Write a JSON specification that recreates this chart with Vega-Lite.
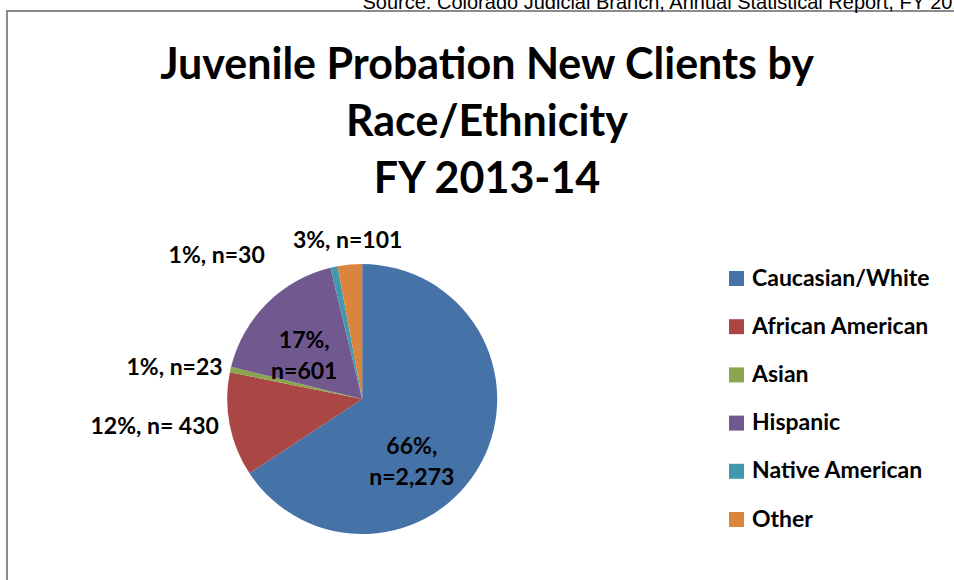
{
  "$schema": "https://vega.github.io/schema/vega-lite/v6.json",
  "width": 960,
  "height": 600,
  "autosize": {"type": "none"},
  "padding": {"left": 7, "top": 11, "right": 0, "bottom": 0},
  "background": "white",
  "config": {
    "view": {"stroke": "#8c8c8c", "strokeWidth": 2},
    "font": "Lato"
  },
  "title": {
    "text": ["Juvenile Probation New Clients by", "Race/Ethnicity", "FY 2013-14"],
    "frame": "group",
    "anchor": "middle",
    "font": "Lato",
    "fontSize": 43,
    "fontWeight": "bold",
    "lineHeight": 57,
    "color": "black",
    "offset": -210
  },
  "data": {
    "values": [
      {"cat": "Caucasian/White", "n": 2273, "label": "66%,\nn=2,273"},
      {"cat": "African American", "n": 430, "label": "12%, n= 430"},
      {"cat": "Asian", "n": 23, "label": "1%, n=23"},
      {"cat": "Hispanic", "n": 601, "label": "17%,\nn=601"},
      {"cat": "Native American", "n": 30, "label": "1%, n=30"},
      {"cat": "Other", "n": 101, "label": "3%, n=101"}
    ]
  },
  "transform": [{"window": [{"op": "row_number", "as": "idx"}]}],
  "encoding": {
    "theta": {"field": "n", "type": "quantitative", "stack": true},
    "order": {"field": "idx", "type": "quantitative"},
    "x": {
      "datum": 0.37,
      "type": "quantitative",
      "scale": {"domain": [0, 1]},
      "axis": {
        "orient": "top",
        "domain": false,
        "ticks": false,
        "labels": false,
        "grid": false,
        "title": "Source: Colorado Judicial Branch, Annual Statistical Report, FY 2013-14",
        "titleFont": "Liberation Sans",
        "titleFontSize": 20,
        "titleFontWeight": "normal",
        "titleColor": "black",
        "titleAnchor": "start",
        "titleAlign": "left",
        "titleBaseline": "alphabetic",
        "titleX": 355,
        "titleY": -3
      }
    },
    "y": {
      "datum": 0.6467,
      "type": "quantitative",
      "scale": {"domain": [0, 1], "reverse": true},
      "axis": null
    }
  },
  "layer": [
    {
      "mark": {"type": "arc", "outerRadius": 135, "stroke": null},
      "encoding": {
        "color": {
          "field": "cat",
          "type": "nominal",
          "scale": {
            "domain": ["Caucasian/White", "African American", "Asian", "Hispanic", "Native American", "Other"],
            "range": ["#4572A7", "#AA4643", "#89A54E", "#71588F", "#4198AF", "#DB843D"]
          },
          "legend": {
            "orient": "none",
            "legendX": 718,
            "legendY": 256,
            "title": null,
            "symbolType": "square",
            "symbolSize": 225,
            "symbolStrokeWidth": 0,
            "symbolOpacity": 1,
            "labelFont": "Lato",
            "labelFontSize": 23,
            "labelFontWeight": "bold",
            "labelColor": "black",
            "labelOffset": 4,
            "rowPadding": 24.2,
            "labelLimit": 300
          }
        }
      }
    },
    {
      "mark": {
        "type": "text",
        "font": "Lato",
        "fontSize": 23,
        "fontWeight": "bold",
        "color": "black",
        "lineBreak": "\n",
        "lineHeight": 31,
        "baseline": "middle",
        "radius": {"expr": "datum.cat == 'Caucasian/White' ? 70 : datum.cat == 'Hispanic' ? 82 : datum.cat == 'Asian' ? 143 : datum.cat == 'African American' ? 146 : datum.cat == 'Other' ? 159 : 160"},
        "align": {"expr": "(datum.cat == 'Caucasian/White' || datum.cat == 'Hispanic' || datum.cat == 'Other') ? 'center' : 'right'"},
        "dx": {"expr": "datum.cat == 'Caucasian/White' ? -12 : datum.cat == 'Native American' ? -64 : 0"},
        "dy": {"expr": "datum.cat == 'Caucasian/White' ? 15 : datum.cat == 'Native American' ? 13 : 0"}
      },
      "encoding": {
        "text": {"field": "label", "type": "nominal"}
      }
    }
  ]
}
